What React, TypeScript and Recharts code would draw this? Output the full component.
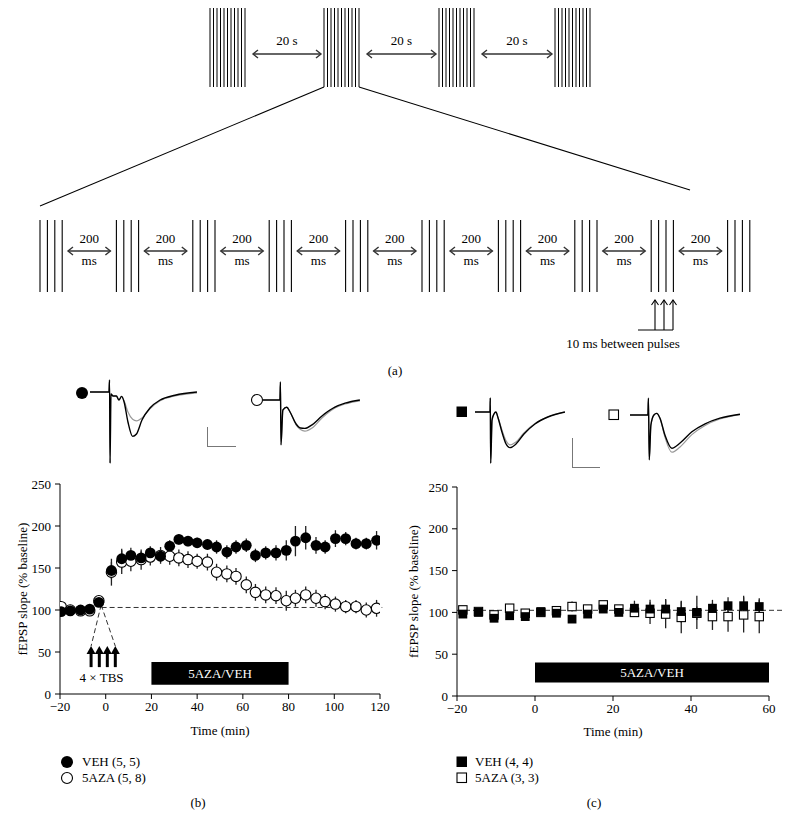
import React from "react"
import {
  ScatterChart,
  Scatter,
  XAxis,
  YAxis,
  ErrorBar,
  ReferenceLine,
  ReferenceArea,
  ReferenceDot,
  LineChart,
  Line,
} from "recharts"

const FONT = '"Liberation Serif", "Times New Roman", serif'
const FS = 13

// ---- panel (b): LTP after 4xTBS, 5AZA vs VEH ----
const bTime = [
  -19.5, -15.5, -11, -7, -3, 2.5, 7, 11, 15.5, 19.5, 24, 28, 32, 36, 40, 44.5, 48.5, 53, 57, 61.5, 65.5, 70,
  74.5, 79, 83, 87.5, 92, 96, 100.5, 105, 109.5, 114, 118.5,
]
const bVeh = [
  98, 99, 100, 101, 109, 147, 161, 165, 162, 168, 164, 176, 184, 182, 180, 178, 175, 169, 175, 177, 165, 168,
  168, 171, 182, 186, 177, 175, 185, 185, 179, 179, 183,
]
const bVehErr = [
  3, 3, 3, 3, 4, 10, 12, 9, 8, 8, 7, 7, 6, 6, 6, 6, 8, 8, 8, 8, 8, 8, 9, 12, 18, 14, 10, 8, 10, 8, 7, 7, 11,
]
const bAza = [
  104, 100, 99, 99, 111, 145, 157, 158, 160, 163, 165, 164, 162, 160, 158, 157, 145, 143, 140, 130, 121, 118,
  117, 111, 114, 118, 114, 110, 107, 104, 104, 100, 102,
]
const bAzaErr = [
  3, 3, 3, 3, 4, 16, 14, 12, 12, 10, 10, 10, 10, 10, 9, 10, 10, 10, 10, 10, 10, 10, 10, 12, 10, 10, 10, 9, 9, 8,
  8, 9, 10,
]
const tbsTimes = [-6.4, -2.8, 0.7, 4.2]

// ---- panel (c): no TBS ----
const cTime = [
  -18.5, -14.5, -10.5, -6.5, -2.5, 1.5, 5.5, 9.5, 13.5, 17.5, 21.5, 25.5, 29.5, 33.5, 37.5, 41.5, 45.5, 49.5,
  53.5, 57.5,
]
const cVeh = [98, 100, 93, 96, 95, 101, 99, 92, 98, 104, 100, 105, 104, 104, 101, 100, 105, 108, 108, 107]
const cVehErr = [2, 2, 2, 2, 2, 2, 2, 2, 2, 2, 3, 9, 11, 12, 13, 20, 10, 10, 12, 10]
const cAza = [103, 101, 97, 105, 99, 100, 102, 107, 104, 109, 104, 100, 99, 98, 94, 99, 95, 95, 97, 95]
const cAzaErr = [2, 2, 2, 2, 2, 2, 2, 6, 3, 3, 3, 5, 13, 17, 19, 8, 16, 18, 21, 20]

// ---- example fEPSP traces (ms, mV) ----
const bVehTraceT = [0, 6.9, 7.1, 7.3, 7.6, 8.4, 9.6, 10.5, 11.5, 12.4, 13.8, 15.5, 16.9, 18.9, 21.8, 25.5, 30.9, 38.9]
const bVehTraceAfter = [0, 0, 0.3, -1.78, -0.05, -0.1, -0.1, -0.2, -0.11, -0.25, -0.75, -1.11, -1.05, -0.7, -0.4, -0.2, -0.08, 0]
const bVehTraceBase = [0, 0, 0.3, -1.78, -0.05, -0.1, -0.1, -0.2, -0.11, -0.22, -0.5, -0.68, -0.72, -0.65, -0.42, -0.22, -0.1, -0.02]

const bAzaTraceT = [0, 6.5, 6.7, 6.9, 7.6, 9.0, 10.2, 12.4, 14.0, 15.6, 18.2, 21.8, 26.5, 30.2, 35.6]
const bAzaTraceAfter = [0, 0, 0.45, -1.12, -0.25, -0.18, -0.3, -0.6, -0.7, -0.71, -0.62, -0.4, -0.18, -0.08, 0]
const bAzaTraceBase = [0, 0, 0.45, -1.12, -0.25, -0.18, -0.3, -0.62, -0.74, -0.78, -0.7, -0.45, -0.2, -0.1, -0.02]

const cVehTraceT = [0, 5.45, 5.56, 5.7, 6.2, 6.9, 7.6, 8.4, 9.8, 11.3, 12.7, 14.9, 17.8, 21.8, 26.5, 32.7]
const cVehTraceAfter = [0, 0, 0.35, -1.28, -0.2, -0.05, 0, -0.15, -0.5, -0.8, -0.89, -0.8, -0.55, -0.3, -0.125, 0]
const cVehTraceBase = [0, 0, 0.35, -1.28, -0.2, -0.05, 0, -0.15, -0.45, -0.72, -0.82, -0.75, -0.52, -0.29, -0.12, 0]

const cAzaTraceT = [0, 6.5, 6.7, 7.0, 7.6, 8.7, 9.7, 10.9, 12.7, 15.2, 18.2, 22.5, 27.3, 32.7, 40]
const cAzaTraceAfter = [0, 0, 0.42, -1.12, -0.25, 0, 0.04, -0.08, -0.5, -0.83, -0.7, -0.42, -0.22, -0.08, 0.02]
const cAzaTraceBase = [0, 0, 0.42, -1.12, -0.25, 0, 0.04, -0.08, -0.55, -0.93, -0.8, -0.49, -0.26, -0.1, 0.01]

const rows = (t: number[], v: number[], e: number[]) => t.map((x, i) => ({ t: x, v: v[i], e: e[i] }))
const traceRows = (t: number[], a: number[], b: number[]) => t.map((x, i) => ({ t: x, after: a[i], base: b[i] }))

const minus = (v: number) => (v < 0 ? `\u2212${Math.abs(v)}` : `${v}`)

const tickStyle = { fill: "#000", fontSize: FS, fontFamily: FONT }

const FilledCircle = (p: any) => <circle cx={p.cx} cy={p.cy} r={5.4} fill="#000" />
const OpenCircle = (p: any) => <circle cx={p.cx} cy={p.cy} r={5.2} fill="#fff" stroke="#000" strokeWidth={1.1} />
const FilledSquare = (p: any) => <rect x={p.cx - 4.4} y={p.cy - 4.4} width={8.8} height={8.8} fill="#000" />
const OpenSquare = (p: any) => (
  <rect x={p.cx - 4.2} y={p.cy - 4.2} width={8.4} height={8.4} fill="#fff" stroke="#000" strokeWidth={1.1} />
)
const ArrowHead = (p: any) => (
  <path d={`M${p.cx - 4.5},${p.cy + 8} L${p.cx},${p.cy} L${p.cx + 4.5},${p.cy + 8} Z`} fill="#000" />
)

function Txt({ x, y, children, anchor = "middle" }: any) {
  return (
    <div
      style={{
        position: "absolute",
        left: x,
        top: y,
        transform: anchor === "middle" ? "translate(-50%, -50%)" : "translate(0, -50%)",
        fontFamily: FONT,
        fontSize: FS,
        whiteSpace: "nowrap",
        color: "#000",
      }}
    >
      {children}
    </div>
  )
}

function DArrow({ x1, x2, y }: { x1: number; x2: number; y: number }) {
  return (
    <g stroke="#333" strokeWidth={1.4} fill="none">
      <line x1={x1} x2={x2} y1={y} y2={y} />
      <path d={`M${x1 + 5},${y - 4} L${x1},${y} L${x1 + 5},${y + 4}`} />
      <path d={`M${x2 - 5},${y - 4} L${x2},${y} L${x2 - 5},${y + 4}`} />
    </g>
  )
}

function Stimulus() {
  const topX = [210, 324, 439, 555]
  const botX = Array.from({ length: 10 }, (_, i) => 40 + 76.4 * i)
  const els: any[] = []
  topX.forEach((gx, g) => {
    for (let k = 0; k < 11; k++)
      els.push(<line key={`t${g}${k}`} x1={gx + k * 3.5} x2={gx + k * 3.5} y1={8} y2={87} stroke="#000" strokeWidth={1} />)
    if (g < 3) {
      const a = gx + 43
      const b = topX[g + 1] - 3
      els.push(<DArrow key={`ta${g}`} x1={a} x2={b} y={54} />)
      els.push(
        <text key={`tl${g}`} x={(a + b) / 2} y={42} textAnchor="middle" dominantBaseline="middle" fontFamily={FONT} fontSize={FS}>
          20 s
        </text>
      )
    }
  })
  botX.forEach((gx, g) => {
    for (let k = 0; k < 4; k++)
      els.push(<line key={`b${g}${k}`} x1={gx + k * 7.4} x2={gx + k * 7.4} y1={220} y2={292} stroke="#000" strokeWidth={1.1} />)
    if (g < 9) {
      const a = gx + 28
      const b = botX[g + 1] - 6
      els.push(<DArrow key={`ba${g}`} x1={a} x2={b} y={251} />)
      els.push(
        <text key={`bl${g}`} x={(a + b) / 2} y={240} textAnchor="middle" dominantBaseline="middle" fontFamily={FONT} fontSize={FS}>
          200
        </text>
      )
      els.push(
        <text key={`bm${g}`} x={(a + b) / 2} y={262} textAnchor="middle" dominantBaseline="middle" fontFamily={FONT} fontSize={FS}>
          ms
        </text>
      )
    }
  })
  return (
    <svg width={790} height={380} style={{ position: "absolute", left: 0, top: 0 }}>
      {els}
      <line x1={324} y1={87} x2={40} y2={206} stroke="#000" strokeWidth={1.1} />
      <line x1={359} y1={87} x2={690} y2={190} stroke="#000" strokeWidth={1.1} />
      <g stroke="#000" strokeWidth={1.1} fill="none">
        <line x1={638} y1={330} x2={673} y2={330} />
        {[655, 664, 673].map((x) => (
          <g key={x}>
            <line x1={x} y1={330} x2={x} y2={300} />
            <path d={`M${x - 3.5},${305} L${x},${300} L${x + 3.5},${305}`} />
          </g>
        ))}
      </g>
      <text x={623} y={345} textAnchor="middle" dominantBaseline="middle" fontFamily={FONT} fontSize={FS}>
        10 ms between pulses
      </text>
      <text x={395} y={372} textAnchor="middle" dominantBaseline="middle" fontFamily={FONT} fontSize={FS}>
        (a)
      </text>
    </svg>
  )
}

// px per ms and per mV for the example traces
const PX_MS = 2.75
const PX_MV = 40

function Trace({ left, top, width, height, base, data }: any) {
  const hi = (base - top) / PX_MV
  const lo = -(top + height - base) / PX_MV
  return (
    <div style={{ position: "absolute", left, top }}>
      <LineChart width={width} height={height} data={data} margin={{ top: 0, right: 0, bottom: 0, left: 0 }}>
        <XAxis type="number" dataKey="t" domain={[0, width / PX_MS]} hide />
        <YAxis type="number" domain={[lo, hi]} hide allowDataOverflow />
        <Line type="monotone" dataKey="base" stroke="#9a9a9a" strokeWidth={1.2} dot={false} isAnimationActive={false} />
        <Line type="monotone" dataKey="after" stroke="#000" strokeWidth={1.4} dot={false} isAnimationActive={false} />
      </LineChart>
    </div>
  )
}

function ScaleBar({ left, top, width, height }: any) {
  return (
    <div
      style={{
        position: "absolute",
        left,
        top,
        width,
        height,
        borderLeft: "1.3px solid #777",
        borderBottom: "1.3px solid #777",
      }}
    />
  )
}

function Marker({ x, y, kind }: { x: number; y: number; kind: string }) {
  const s = 12
  return (
    <svg width={s + 2} height={s + 2} style={{ position: "absolute", left: x - s / 2 - 1, top: y - s / 2 - 1 }}>
      {kind === "fc" && <circle cx={s / 2 + 1} cy={s / 2 + 1} r={6} fill="#000" />}
      {kind === "oc" && <circle cx={s / 2 + 1} cy={s / 2 + 1} r={5.5} fill="#fff" stroke="#000" strokeWidth={1.1} />}
      {kind === "fs" && <rect x={1.5} y={1.5} width={10.5} height={10.5} fill="#000" />}
      {kind === "os" && <rect x={2} y={2} width={9.5} height={9.5} fill="#fff" stroke="#000" strokeWidth={1.1} />}
    </svg>
  )
}

function PanelB() {
  return (
    <div style={{ position: "absolute", left: 0, top: 460 }}>
      <ScatterChart width={400} height={280} margin={{ top: 24, right: 20, bottom: 5, left: 20 }}>
        <XAxis
          type="number"
          dataKey="t"
          domain={[-20, 120]}
          ticks={[-20, 0, 20, 40, 60, 80, 100, 120]}
          tickFormatter={minus}
          tick={tickStyle}
          tickSize={5}
          tickMargin={3}
          height={41}
          stroke="#000"
          allowDataOverflow
          label={{ value: "Time (min)", position: "insideBottom", offset: 0, fill: "#000", fontSize: FS, fontFamily: FONT }}
        />
        <YAxis
          type="number"
          dataKey="v"
          domain={[0, 250]}
          ticks={[0, 50, 100, 150, 200, 250]}
          tick={tickStyle}
          tickSize={5}
          tickMargin={4}
          width={40}
          stroke="#000"
          allowDataOverflow
          label={{
            value: "fEPSP slope (% baseline)",
            angle: -90,
            position: "insideLeft",
            offset: 2,
            style: { textAnchor: "middle" },
            fill: "#000",
            fontSize: FS,
            fontFamily: FONT,
          }}
        />
        <ReferenceArea
          x1={20}
          x2={80}
          y1={11}
          y2={38}
          fill="#000"
          fillOpacity={1}
          stroke="none"
          label={{ value: "5AZA/VEH", position: "center", fill: "#fff", fontSize: FS, fontFamily: FONT }}
        />
        <ReferenceLine segment={[{ x: -1.8, y: 103 }, { x: 121, y: 103 }]} stroke="#333" strokeDasharray="5 3" ifOverflow="visible" />
        <ReferenceLine segment={[{ x: -2, y: 106 }, { x: -6.4, y: 57 }]} stroke="#333" strokeDasharray="5 3" />
        <ReferenceLine segment={[{ x: -2, y: 106 }, { x: 4.2, y: 57 }]} stroke="#333" strokeDasharray="5 3" />
        {tbsTimes.map((t) => (
          <ReferenceLine key={t} segment={[{ x: t, y: 32 }, { x: t, y: 51 }]} stroke="#000" strokeWidth={3} />
        ))}
        <ReferenceDot
          x={-1.8}
          y={20}
          r={0}
          fill="none"
          stroke="none"
          label={{ value: "4 \u00d7 TBS", position: "center", fill: "#000", fontSize: FS, fontFamily: FONT }}
        />
        <Scatter data={tbsTimes.map((t) => ({ t, v: 57 }))} shape={ArrowHead} isAnimationActive={false} />
        <Scatter data={rows(bTime, bAza, bAzaErr)} shape={OpenCircle} isAnimationActive={false}>
          <ErrorBar dataKey="e" direction="y" width={0} stroke="#222" strokeWidth={1.3} isAnimationActive={false} />
        </Scatter>
        <Scatter data={rows(bTime, bVeh, bVehErr)} shape={FilledCircle} isAnimationActive={false}>
          <ErrorBar dataKey="e" direction="y" width={0} stroke="#222" strokeWidth={1.3} isAnimationActive={false} />
        </Scatter>
      </ScatterChart>
    </div>
  )
}

function PanelC() {
  return (
    <div style={{ position: "absolute", left: 395, top: 460 }}>
      <ScatterChart width={390} height={280} margin={{ top: 27, right: 16, bottom: 4, left: 22 }}>
        <XAxis
          type="number"
          dataKey="t"
          domain={[-20, 60]}
          ticks={[-20, 0, 20, 40, 60]}
          tickFormatter={minus}
          tick={tickStyle}
          tickSize={5}
          tickMargin={3}
          height={40}
          stroke="#000"
          allowDataOverflow
          label={{ value: "Time (min)", position: "insideBottom", offset: 0, fill: "#000", fontSize: FS, fontFamily: FONT }}
        />
        <YAxis
          type="number"
          dataKey="v"
          domain={[0, 250]}
          ticks={[0, 50, 100, 150, 200, 250]}
          tick={tickStyle}
          tickSize={5}
          tickMargin={4}
          width={40}
          stroke="#000"
          allowDataOverflow
          label={{
            value: "fEPSP slope (% baseline)",
            angle: -90,
            position: "insideLeft",
            offset: -4,
            style: { textAnchor: "middle" },
            fill: "#000",
            fontSize: FS,
            fontFamily: FONT,
          }}
        />
        <ReferenceArea
          x1={0}
          x2={60}
          y1={16}
          y2={40}
          fill="#000"
          fillOpacity={1}
          stroke="none"
          label={{ value: "5AZA/VEH", position: "center", fill: "#fff", fontSize: FS, fontFamily: FONT }}
        />
        <ReferenceLine segment={[{ x: -20, y: 102.5 }, { x: 63.5, y: 102.5 }]} stroke="#333" strokeDasharray="5 3" ifOverflow="visible" />
        <Scatter data={rows(cTime, cAza, cAzaErr)} shape={OpenSquare} isAnimationActive={false}>
          <ErrorBar dataKey="e" direction="y" width={0} stroke="#222" strokeWidth={1.3} isAnimationActive={false} />
        </Scatter>
        <Scatter data={rows(cTime, cVeh, cVehErr)} shape={FilledSquare} isAnimationActive={false}>
          <ErrorBar dataKey="e" direction="y" width={0} stroke="#222" strokeWidth={1.3} isAnimationActive={false} />
        </Scatter>
      </ScatterChart>
    </div>
  )
}

export default function App() {
  return (
    <div style={{ position: "absolute", left: 0, top: 0, width: 790, height: 829, background: "#fff", overflow: "hidden" }}>
      <Stimulus />

      {/* example traces, panel b */}
      <Marker x={81.7} y={393} kind="fc" />
      <Trace left={90} top={376} width={110} height={92} base={392} data={traceRows(bVehTraceT, bVehTraceAfter, bVehTraceBase)} />
      <ScaleBar left={206.7} top={426.7} width={28} height={19} />
      <Marker x={256.7} y={399.5} kind="oc" />
      <Trace left={262} top={376} width={100} height={72} base={400} data={traceRows(bAzaTraceT, bAzaTraceAfter, bAzaTraceBase)} />

      {/* example traces, panel c */}
      <Marker x={461.7} y={412} kind="fs" />
      <Trace left={475} top={392} width={95} height={76} base={412} data={traceRows(cVehTraceT, cVehTraceAfter, cVehTraceBase)} />
      <ScaleBar left={571.7} top={438.3} width={27} height={29} />
      <Marker x={614} y={415} kind="os" />
      <Trace left={630} top={392} width={112} height={72} base={415} data={traceRows(cAzaTraceT, cAzaTraceAfter, cAzaTraceBase)} />

      <PanelB />
      <PanelC />

      {/* legends */}
      <Marker x={66.7} y={762} kind="fc" />
      <Txt x={82} y={762} anchor="start">VEH (5, 5)</Txt>
      <Marker x={66.7} y={777.5} kind="oc" />
      <Txt x={82} y={777.5} anchor="start">5AZA (5, 8)</Txt>
      <Marker x={461.5} y={762} kind="fs" />
      <Txt x={475} y={762} anchor="start">VEH (4, 4)</Txt>
      <Marker x={461.5} y={777.5} kind="os" />
      <Txt x={475} y={777.5} anchor="start">5AZA (3, 3)</Txt>

      <Txt x={198} y={803}>(b)</Txt>
      <Txt x={594} y={803}>(c)</Txt>
    </div>
  )
}
